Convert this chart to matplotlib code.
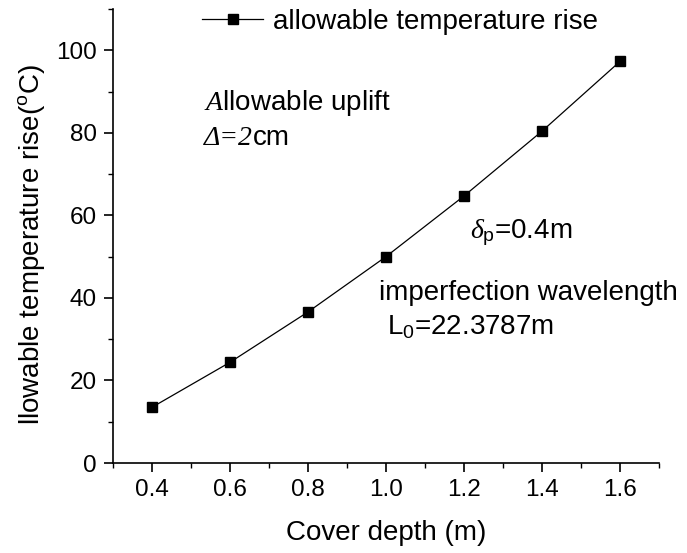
import matplotlib
matplotlib.use('Agg')
import matplotlib.pyplot as plt
from matplotlib.ticker import MultipleLocator

plt.rcParams['font.family'] = ['Liberation Sans', 'DejaVu Sans']
plt.rcParams['mathtext.fontset'] = 'custom'
plt.rcParams['mathtext.rm'] = 'Liberation Sans'
plt.rcParams['mathtext.it'] = 'Liberation Serif:italic'

depth = [0.4, 0.6, 0.8, 1.0, 1.2, 1.4, 1.6]
temp_rise = [13.5, 24.4, 36.6, 50.0, 64.7, 80.4, 97.3]
xtick_labels = ['0.4', '0.6', '0.8', '1.0', '1.2', '1.4', '1.6']

W, H = 687, 553
fig = plt.figure(figsize=(W / 100, H / 100), dpi=100)
# axes box in pixels: left 113, right 659, bottom 463, top 9
ax = fig.add_axes([113 / W, (H - 463) / H, 546 / W, 454 / H])

line, = ax.plot(depth, temp_rise, color='black', lw=0.9, marker='s', ms=7,
                label='allowable temperature rise')

ax.set_xlim(0.3, 1.7)
ax.set_ylim(0, 110)
ax.set_xticks(depth)
ax.set_xticklabels(xtick_labels)
ax.xaxis.set_minor_locator(MultipleLocator(0.1))
ax.yaxis.set_major_locator(MultipleLocator(20))
ax.yaxis.set_minor_locator(MultipleLocator(10))
ax.spines['top'].set_visible(False)
ax.spines['right'].set_visible(False)
for s in ['left', 'bottom']:
    ax.spines[s].set_linewidth(1.2)
ax.tick_params(which='major', direction='out', length=6.5, width=1.2, labelsize=17.5)
ax.tick_params(axis='x', which='major', pad=5)
ax.tick_params(axis='y', which='major', pad=5)
ax.tick_params(which='minor', direction='out', length=3.6, width=1.0)

ax.set_xlabel('Cover depth (m)', fontsize=20)
ax.xaxis.set_label_coords(0.5, -0.125)
ax.set_ylabel(r'llowable temperature rise($\mathregular{^o}$C)', fontsize=20)
ax.yaxis.set_label_coords(-0.12, 0.48)

fig.legend(handles=[line], loc='center left', bbox_to_anchor=(202 / W, 1 - 22 / H),
           frameon=False, fontsize=20, handlelength=2.2, handletextpad=0.36,
           borderpad=0, borderaxespad=0)

ax.text(0.167, 0.778, r'$\mathit{A}$llowable uplift', transform=ax.transAxes,
        fontsize=20, va='baseline')
t_delta = ax.text(0.167, 0.700, 'Δ=2', transform=ax.transAxes, fontsize=20,
                  va='baseline', family='Liberation Serif', style='italic')
ax.annotate('cm', xy=(1, 0), xycoords=t_delta, fontsize=20, va='bottom', ha='left')
ax.text(0.654, 0.496, r'$\delta_{\mathregular{p}}$=0.4m', transform=ax.transAxes,
        fontsize=20, va='baseline')
ax.text(0.487, 0.359, 'imperfection wavelength', transform=ax.transAxes,
        fontsize=20, va='baseline')
ax.text(0.502, 0.282, r'L$\mathregular{_0}$=22.3787m', transform=ax.transAxes,
        fontsize=20, va='baseline')

fig.savefig('out.png', dpi=100)
